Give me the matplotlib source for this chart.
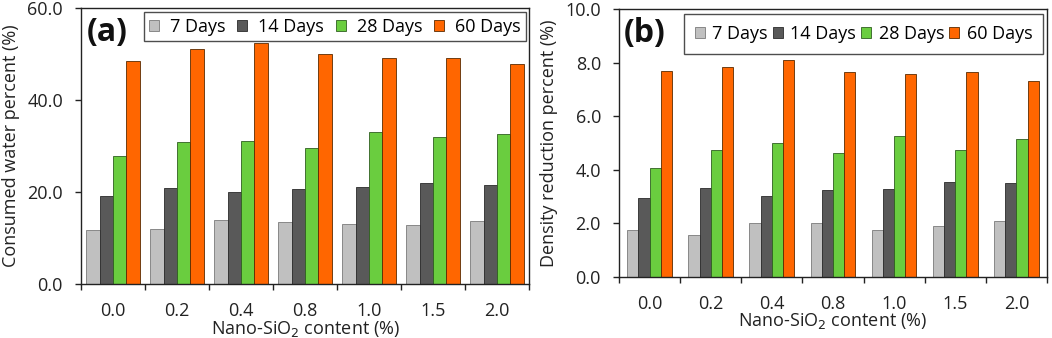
import matplotlib
matplotlib.use("Agg")
import matplotlib.pyplot as plt
import numpy as np
from matplotlib.ticker import FixedLocator, FormatStrFormatter

plt.rcParams['font.family'] = ['Open Sans', 'DejaVu Sans']

categories = ["0.0", "0.2", "0.4", "0.8", "1.0", "1.5", "2.0"]
series_names = ["7 Days", "14 Days", "28 Days", "60 Days"]

# (a) Consumed water percent (%)
water_7 = [11.8, 12.0, 14.0, 13.5, 13.2, 12.8, 13.8]
water_14 = [19.2, 21.0, 20.0, 20.8, 21.1, 21.9, 21.6]
water_28 = [27.9, 30.8, 31.1, 29.6, 33.1, 32.0, 32.6]
water_60 = [48.4, 51.1, 52.4, 49.9, 49.1, 49.2, 47.8]

# (b) Density reduction percent (%)
dens_7 = [1.76, 1.56, 2.02, 2.01, 1.73, 1.88, 2.07]
dens_14 = [2.94, 3.33, 3.02, 3.25, 3.29, 3.54, 3.49]
dens_28 = [4.06, 4.74, 4.99, 4.63, 5.26, 4.73, 5.16]
dens_60 = [7.68, 7.84, 8.09, 7.64, 7.59, 7.66, 7.33]

colors = ["#c0c0c0", "#595959", "#6acd3f", "#ff6600"]
edges = ["#7a7a7a", "#2a2a2a", "#2f5f20", "#5a2a00"]
FS = 13

fig = plt.figure(figsize=(10.52, 3.38), dpi=100)
ax_a = fig.add_axes([0.0770, 0.1589, 0.4259, 0.8175])
ax_b = fig.add_axes([0.5884, 0.1814, 0.4068, 0.7911])


def draw(ax, data, bar_w, ymax, ystep, ylabel, panel, leg_anchor, leg_kw):
    x = np.arange(len(categories))
    n = len(data)
    for i, vals in enumerate(data):
        off = (i - (n - 1) / 2) * bar_w
        ax.bar(x + off, vals, width=bar_w, color=colors[i], edgecolor=edges[i],
               linewidth=0.6, label=series_names[i], zorder=2)
    ax.set_xlim(-0.5, len(categories) - 0.5)
    ax.set_ylim(0, ymax)
    ax.yaxis.set_major_locator(FixedLocator(np.arange(0, ymax + ystep / 2, ystep)))
    ax.yaxis.set_major_formatter(FormatStrFormatter('%.1f'))
    ax.set_xticks(x)
    ax.set_xticklabels(categories)
    ax.xaxis.set_minor_locator(FixedLocator(np.arange(-0.5, len(categories), 1.0)))
    ax.tick_params(axis='x', which='major', length=0, pad=13, labelsize=FS, colors='#222222')
    ax.tick_params(axis='x', which='minor', length=4, width=1.0, direction='out', color='#222222')
    ax.tick_params(axis='y', which='major', length=4, width=1.0, direction='out', pad=9,
                   labelsize=FS, colors='#222222')
    for s in ax.spines.values():
        s.set_linewidth(1.0)
        s.set_color('#222222')
    ax.set_ylabel(ylabel, fontsize=FS, color='#222222', labelpad=5)
    ax.set_xlabel("Nano-SiO$_2$ content (%)", fontsize=FS, color='#222222', labelpad=-1)
    ax.text(0.012, 0.91, panel, transform=ax.transAxes, fontsize=23, fontweight='bold',
            ha='left', va='center', color='#111111')
    leg = ax.legend(loc='upper right', bbox_to_anchor=leg_anchor, ncol=4, frameon=True,
                    fancybox=False, edgecolor='#222222', fontsize=FS,
                    handlelength=0.55, handleheight=0.55, **leg_kw)
    leg.get_frame().set_linewidth(1.0)


draw(ax_a, [water_7, water_14, water_28, water_60], 0.21, 60, 20,
     "Consumed water percent (%)", "(a)", (0.993, 0.986),
     dict(columnspacing=0.65, handletextpad=0.6, borderpad=0.32, borderaxespad=0))
draw(ax_b, [dens_7, dens_14, dens_28, dens_60], 0.183, 10, 2,
     "Density reduction percent (%)", "(b)", (0.991, 0.982),
     dict(columnspacing=0.3, handletextpad=0.4, borderpad=0.6, borderaxespad=0))

fig.savefig("out.png", dpi=100)
